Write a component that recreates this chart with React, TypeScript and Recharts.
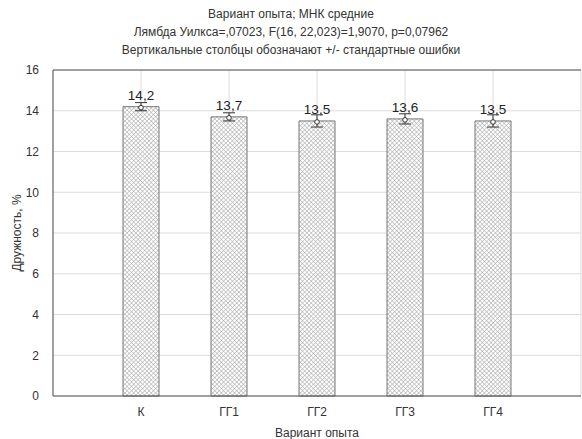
import React from 'react';
import {
  Bar, BarChart, CartesianGrid, ErrorBar, LabelList, ReferenceLine, XAxis, YAxis,
} from 'recharts';

const groups = ['К', 'ГГ1', 'ГГ2', 'ГГ3', 'ГГ4'];
const means = [14.2, 13.7, 13.5, 13.6, 13.5];
const stdErrors = [0.2, 0.2, 0.3, 0.25, 0.3];
const yTicks = [0, 2, 4, 6, 8, 10, 12, 14, 16];

const titleLines = [
  'Вариант опыта; МНК средние',
  'Лямбда Уилкса=,07023, F(16, 22,023)=1,9070, p=0,07962',
  'Вертикальные столбцы обозначают +/- стандартные ошибки',
];

const data = groups.map((g, i) => ({ group: g, mean: means[i], err: stdErrors[i] }));

const font = '"Liberation Sans", Arial, sans-serif';

// value text above the bar plus the small mean marker on the bar top
const MeanLabel = (props: any) => {
  const { x, y, width, value } = props;
  const cx = x + width / 2;
  return (
    <g>
      <text
        x={cx}
        y={y - 7}
        textAnchor="middle"
        fontSize={13.5}
        fontFamily={font}
        fill="#222"
      >
        {String(value).replace('.', ',')}
      </text>
      <circle cx={cx} cy={y + 1} r={2.3} fill="#fff" stroke="#333" strokeWidth={1} />
    </g>
  );
};

const App = () => (
  <div style={{ position: 'absolute', left: 0, top: 0, width: 582, height: 439, background: '#fff' }}>
    {titleLines.map((t, i) => (
      <div
        key={t}
        style={{
          position: 'absolute',
          left: 0,
          width: 582,
          top: 6 + i * 18,
          textAlign: 'center',
          fontFamily: font,
          fontSize: 12,
          color: '#333',
          lineHeight: '16px',
        }}
      >
        {t}
      </div>
    ))}
    <BarChart
      width={582}
      height={439}
      data={data}
      margin={{ top: 70, right: 1, bottom: 0, left: 0 }}
    >
      <defs>
        <pattern id="crossHatch" width="3.1" height="3.1" patternUnits="userSpaceOnUse" patternTransform="rotate(45)">
          <rect width="3.1" height="3.1" fill="#fff" />
          <line x1="0" y1="0" x2="0" y2="3.1" stroke="#999" strokeWidth="0.9" />
          <line x1="0" y1="0" x2="3.1" y2="0" stroke="#999" strokeWidth="0.9" />
        </pattern>
      </defs>
      <CartesianGrid stroke="#dcdcdc" />
      <XAxis
        dataKey="group"
        height={43}
        padding={{ left: 44, right: 44 }}
        axisLine={{ stroke: '#555' }}
        tickLine={false}
        tick={{ fontSize: 12, fontFamily: font, fill: '#333' }}
        tickMargin={5}
        label={{
          value: 'Вариант опыта', position: 'insideBottom', offset: 2, fontSize: 12, fontFamily: font, fill: '#333',
        }}
      />
      <YAxis
        width={53}
        domain={[0, 16]}
        ticks={yTicks}
        axisLine={{ stroke: '#555' }}
        tickLine={false}
        tick={{ fontSize: 12, fontFamily: font, fill: '#333' }}
        tickMargin={8}
        label={(p: any) => {
          const vb = p.viewBox;
          const cy = vb.y + vb.height / 2;
          return (
            <text
              x={18}
              y={cy}
              transform={`rotate(-90, 18, ${cy})`}
              textAnchor="middle"
              dominantBaseline="middle"
              fontSize={12}
              fontFamily={font}
              fill="#333"
            >
              Дружность, %
            </text>
          );
        }}
      />
      <ReferenceLine y={16} stroke="#555" />
      <Bar
        dataKey="mean"
        barSize={36}
        fill="url(#crossHatch)"
        stroke="#777"
        strokeWidth={1}
        isAnimationActive={false}
      >
        <ErrorBar dataKey="err" width={6} stroke="#333" strokeWidth={1} direction="y" />
        <LabelList dataKey="mean" content={MeanLabel} />
      </Bar>
    </BarChart>
  </div>
);

export default App;
